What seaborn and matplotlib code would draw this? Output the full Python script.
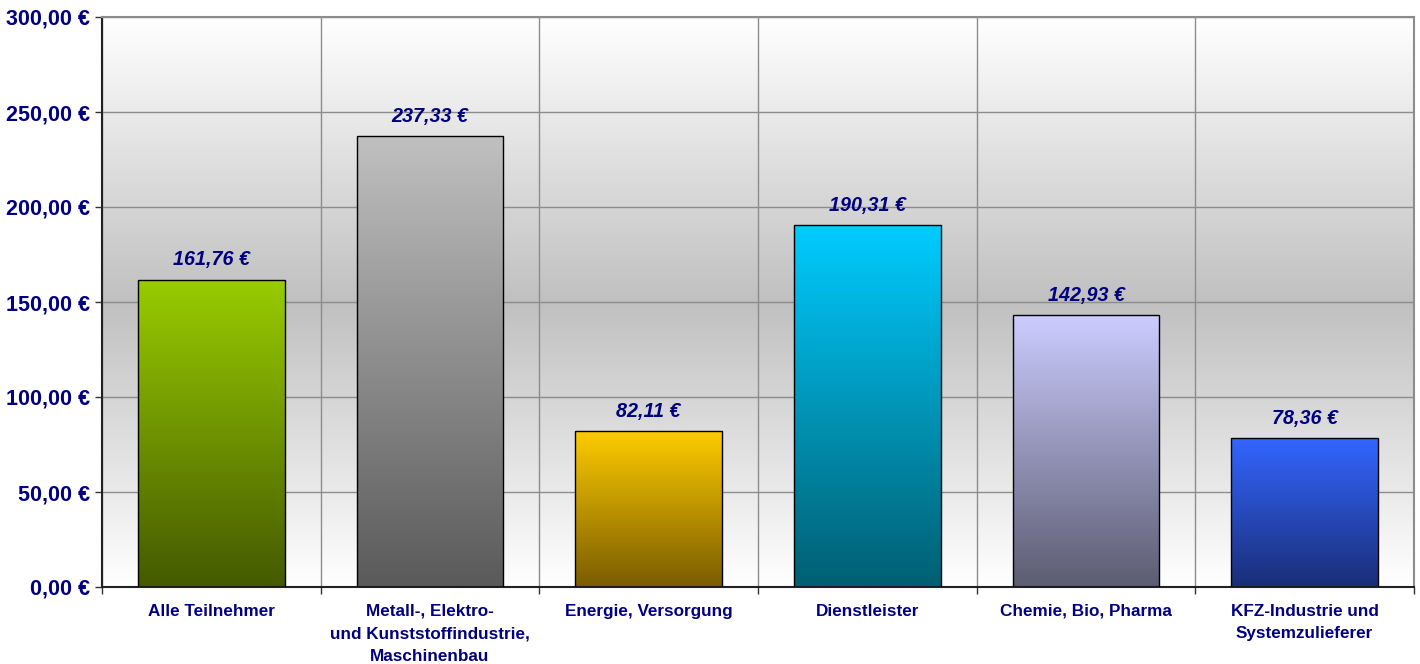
import numpy as np
import pandas as pd
import matplotlib
matplotlib.use("Agg")
import matplotlib.pyplot as plt
import seaborn as sns
from matplotlib.colors import LinearSegmentedColormap
from matplotlib.ticker import FuncFormatter, MultipleLocator, FixedLocator

categories = ["Alle Teilnehmer",
              "Metall-, Elektro-\nund Kunststoffindustrie,\nMaschinenbau",
              "Energie, Versorgung",
              "Dienstleister",
              "Chemie, Bio, Pharma",
              "KFZ-Industrie und\nSystemzulieferer"]
values = [161.76, 237.33, 82.11, 190.31, 142.93, 78.36]
top_colors = ["#99cc00", "#c0c0c0", "#ffcc00", "#00ccff", "#ccccff", "#3366ff"]
bottom_colors = ["#445a00", "#5a5a5a", "#7a5c00", "#005f72", "#5c5c72", "#1a2e78"]

navy = "#000080"
sns.set_theme(style="white")
plt.rcParams["font.family"] = ["Liberation Sans", "DejaVu Sans"]

fig = plt.figure(figsize=(14.2, 6.64), dpi=100)
ax = fig.add_axes([102/1420, 1-587/664, (1414-102)/1420, (587-17)/664])

df = pd.DataFrame({"cat": categories, "val": values})
sns.barplot(data=df, x="cat", y="val", ax=ax, width=0.67, color="white",
            edgecolor="black", linewidth=1.0, zorder=3)

ax.set_ylim(0, 300)
ax.set_xlim(-0.5, len(categories) - 0.5)

# background gradient: white -> grey -> white
bg_cmap = LinearSegmentedColormap.from_list("bg", ["#ffffff", "#c0c0c0", "#ffffff"])
grad = np.linspace(0, 1, 256).reshape(-1, 1)
ax.imshow(grad, cmap=bg_cmap, aspect="auto", extent=[0, 1, 0, 1],
          transform=ax.transAxes, zorder=0, origin="upper")

# gradient bars
for i, patch in enumerate(ax.patches):
    x0, y0 = patch.get_x(), patch.get_y()
    w, h = patch.get_width(), patch.get_height()
    cm = LinearSegmentedColormap.from_list(f"b{i}", [bottom_colors[i], top_colors[i]])
    g = np.linspace(0, 1, 256).reshape(-1, 1)
    im = ax.imshow(g, cmap=cm, aspect="auto", extent=[x0, x0 + w, y0, y0 + h],
                   origin="lower", zorder=2.5)
    im.set_clip_path(patch)
    patch.set_facecolor("none")
    ax.annotate(f"{values[i]:.2f} €".replace(".", ","), (x0 + w / 2, y0 + h),
                xytext=(0, 7.5), textcoords="offset points", ha="center", va="bottom",
                fontsize=14.2, fontweight="bold", fontstyle="italic", color=navy, zorder=5)

ax.set_xlim(-0.5, len(categories) - 0.5)
ax.set_ylim(0, 300)

# grid
ax.yaxis.set_major_locator(MultipleLocator(50))
ax.xaxis.set_major_locator(FixedLocator(np.arange(-0.5, len(categories), 1.0)))
ax.xaxis.set_minor_locator(FixedLocator(np.arange(len(categories))))
ax.set_xticklabels([], minor=False)
ax.set_xticklabels(categories, minor=True)
ax.grid(True, which="major", color="#8c8c8c", linewidth=1.0, zorder=1)
ax.set_axisbelow(True)

ax.yaxis.set_major_formatter(FuncFormatter(lambda v, p: f"{v:.2f} €".replace(".", ",")))
ax.tick_params(axis="y", which="major", direction="out", length=5, width=1, color="#333333",
               labelsize=15.5, labelcolor=navy, pad=4, left=True)
ax.tick_params(axis="x", which="major", direction="out", length=5, width=1, color="#333333",
               bottom=True)
ax.tick_params(axis="x", which="minor", length=0, labelsize=12.3, labelcolor=navy, pad=12)
for lab in ax.get_yticklabels():
    lab.set_fontweight("bold")
for lab in ax.get_xticklabels(minor=True):
    lab.set_fontweight("bold")
    lab.set_multialignment("center")
    lab.set_linespacing(1.62)

ax.set_xlabel("")
ax.set_ylabel("")
for side in ["left", "bottom"]:
    ax.spines[side].set_color("#222222")
    ax.spines[side].set_linewidth(1.5)
for side in ["top", "right"]:
    ax.spines[side].set_visible(True)
    ax.spines[side].set_color("#8c8c8c")
    ax.spines[side].set_linewidth(1.5)

fig.savefig("out.png", dpi=100, facecolor="white")
